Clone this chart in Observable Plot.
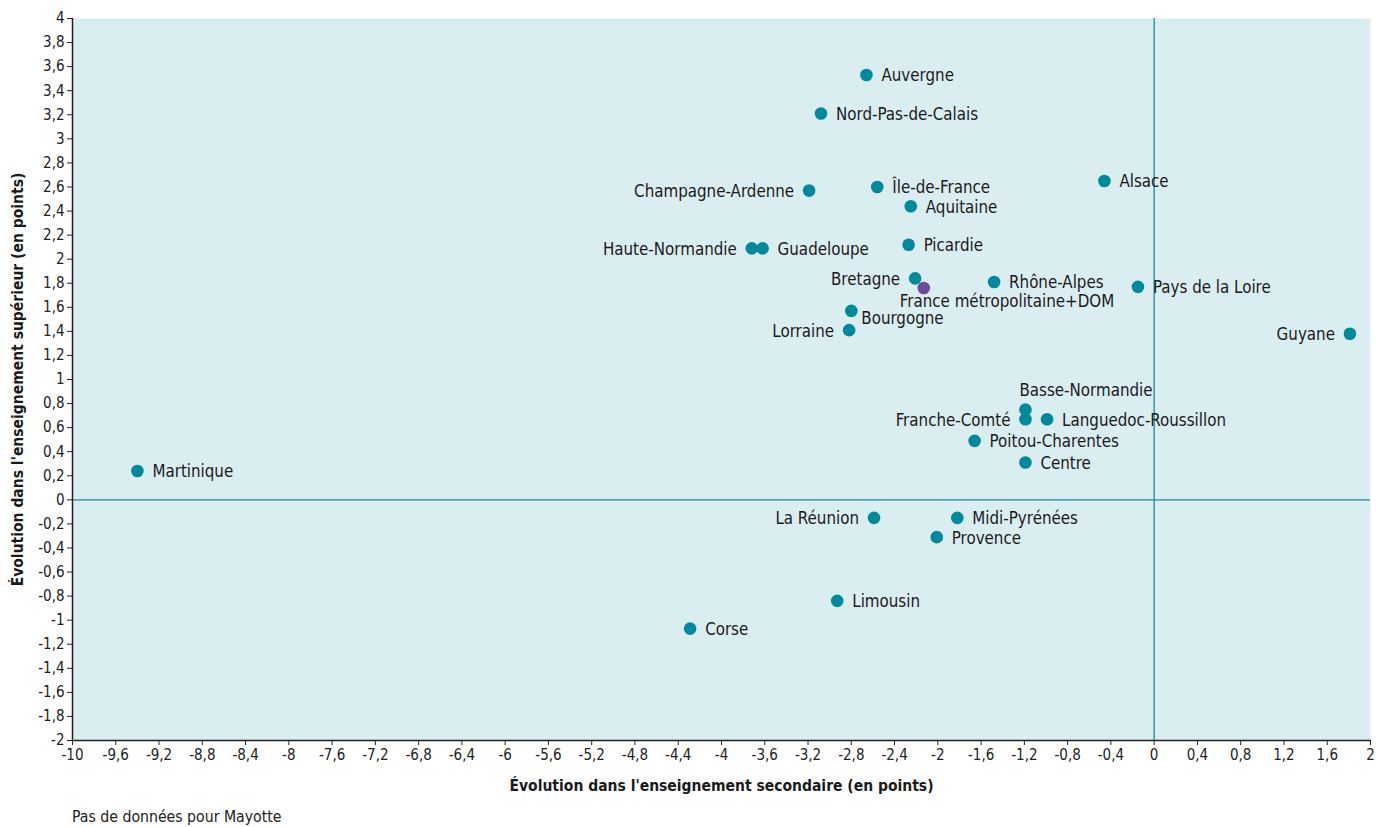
<!DOCTYPE html>
<html><head><meta charset="utf-8">
<script src="https://cdn.jsdelivr.net/npm/d3@7"></script>
<script src="https://cdn.jsdelivr.net/npm/@observablehq/plot@0.6"></script>
<style>
body{margin:0;background:#fff;font-family:"Liberation Sans Narrow","DejaVu Sans Condensed","Roboto",sans-serif;}
#cap{position:absolute;left:72px;top:807px;font-size:15.7px;color:#222;}
</style></head>
<body>
<div id="chart"></div>
<div id="cap">Pas de données pour Mayotte</div>
<script>
const regions = ["Auvergne","Nord-Pas-de-Calais","Champagne-Ardenne","Île-de-France","Alsace","Aquitaine","Haute-Normandie","Guadeloupe","Picardie","Bretagne","France métropolitaine+DOM","Rhône-Alpes","Pays de la Loire","Guyane","Bourgogne","Lorraine","Basse-Normandie","Franche-Comté","Languedoc-Roussillon","Poitou-Charentes","Centre","Martinique","La Réunion","Midi-Pyrénées","Provence","Limousin","Corse"];
const secondaire = [-2.66,-3.08,-3.19,-2.56,-0.46,-2.25,-3.72,-3.62,-2.27,-2.21,-2.13,-1.48,-0.15,1.81,-2.80,-2.82,-1.19,-1.19,-0.99,-1.66,-1.19,-9.40,-2.59,-1.82,-2.01,-2.93,-4.29];
const superieur = [3.53,3.21,2.57,2.60,2.65,2.44,2.09,2.09,2.12,1.84,1.76,1.81,1.77,1.38,1.57,1.41,0.75,0.67,0.67,0.49,0.31,0.24,-0.15,-0.15,-0.31,-0.84,-1.07];
const xTicks = [-10,-9.6,-9.2,-8.8,-8.4,-8,-7.6,-7.2,-6.8,-6.4,-6,-5.6,-5.2,-4.8,-4.4,-4,-3.6,-3.2,-2.8,-2.4,-2,-1.6,-1.2,-0.8,-0.4,0,0.4,0.8,1.2,1.6,2];
const yTicks = [-2,-1.8,-1.6,-1.4,-1.2,-1,-0.8,-0.6,-0.4,-0.2,0,0.2,0.4,0.6,0.8,1,1.2,1.4,1.6,1.8,2,2.2,2.4,2.6,2.8,3,3.2,3.4,3.6,3.8,4];
const xLabel = "Évolution dans l'enseignement secondaire (en points)";
const yLabel = "Évolution dans l'enseignement supérieur (en points)";
const nationalName = "France métropolitaine+DOM";

const data = regions.map((r,i)=>({name:r, x:secondaire[i], y:superieur[i]}));
const fmt = v => String(Math.round(v*10)/10).replace(".", ",");

// label placement
const leftSet = new Set(["Champagne-Ardenne","Haute-Normandie","Bretagne","Lorraine","La Réunion","Franche-Comté","Guyane"]);
const special = {
  "Basse-Normandie": {dx:-6, dy:-19, anchor:"start"},
  "France métropolitaine+DOM": {dx:-24, dy:14, anchor:"start"},
  "Bourgogne": {dx:10, dy:8, anchor:"start"}
};
const labelSize = 16.8;
const rightData = data.filter(d=>!leftSet.has(d.name) && !special[d.name]);
const leftData = data.filter(d=>leftSet.has(d.name));
const specialMarks = Object.entries(special).map(([n,s]) =>
  Plot.text(data.filter(d=>d.name===n), {x:"x", y:"y", text:"name", dx:s.dx, dy:s.dy, textAnchor:s.anchor, fontSize:labelSize, fill:"#1a1a1a"}));

const font = '"Liberation Sans Narrow","DejaVu Sans Condensed",sans-serif';
const chart = Plot.plot({
  width:1376, height:800,
  marginLeft:72, marginRight:6, marginTop:18, marginBottom:60,
  style:{fontFamily:font, fontSize:"15px", color:"#222", background:"transparent"},
  x:{domain:[-10,2], ticks:xTicks, tickFormat:fmt, label:null},
  y:{domain:[-2,4], ticks:yTicks, tickFormat:fmt, label:null},
  marks:[
    Plot.frame({fill:"#daedf1", stroke:null}),
    Plot.ruleY([0], {stroke:"#1a8a9c", strokeWidth:1.3}),
    Plot.ruleX([0], {stroke:"#1a8a9c", strokeWidth:1.3}),
    Plot.axisX({ticks:xTicks, tickFormat:fmt, tickSize:5, tickPadding:4, fontSize:15, label:null}),
    Plot.axisY({ticks:yTicks, tickFormat:fmt, tickSize:5, tickPadding:3, fontSize:15, label:null}),
    Plot.ruleX([-10], {stroke:"#222", strokeWidth:1.5}),
    Plot.ruleY([-2], {stroke:"#222", strokeWidth:1.5}),
    Plot.dot(data, {x:"x", y:"y", r:6.3, fill:d=>d.name===nationalName?"#6b4c9a":"#00899a", stroke:null}),
    Plot.text(rightData, {x:"x", y:"y", text:"name", dx:15, dy:1, textAnchor:"start", fontSize:labelSize, fill:"#1a1a1a"}),
    Plot.text(leftData, {x:"x", y:"y", text:"name", dx:-15, dy:1, textAnchor:"end", fontSize:labelSize, fill:"#1a1a1a"}),
    ...specialMarks,
    Plot.text([xLabel], {frameAnchor:"bottom", textAnchor:"middle", dy:50, fontWeight:"bold", fontSize:15.5, fill:"#1a1a1a"}),
    Plot.text([yLabel], {frameAnchor:"left", textAnchor:"middle", dx:-54, rotate:-90, fontWeight:"bold", fontSize:15.5, fill:"#1a1a1a"})
  ]
});
document.getElementById("chart").appendChild(chart);
</script>
</body></html>
